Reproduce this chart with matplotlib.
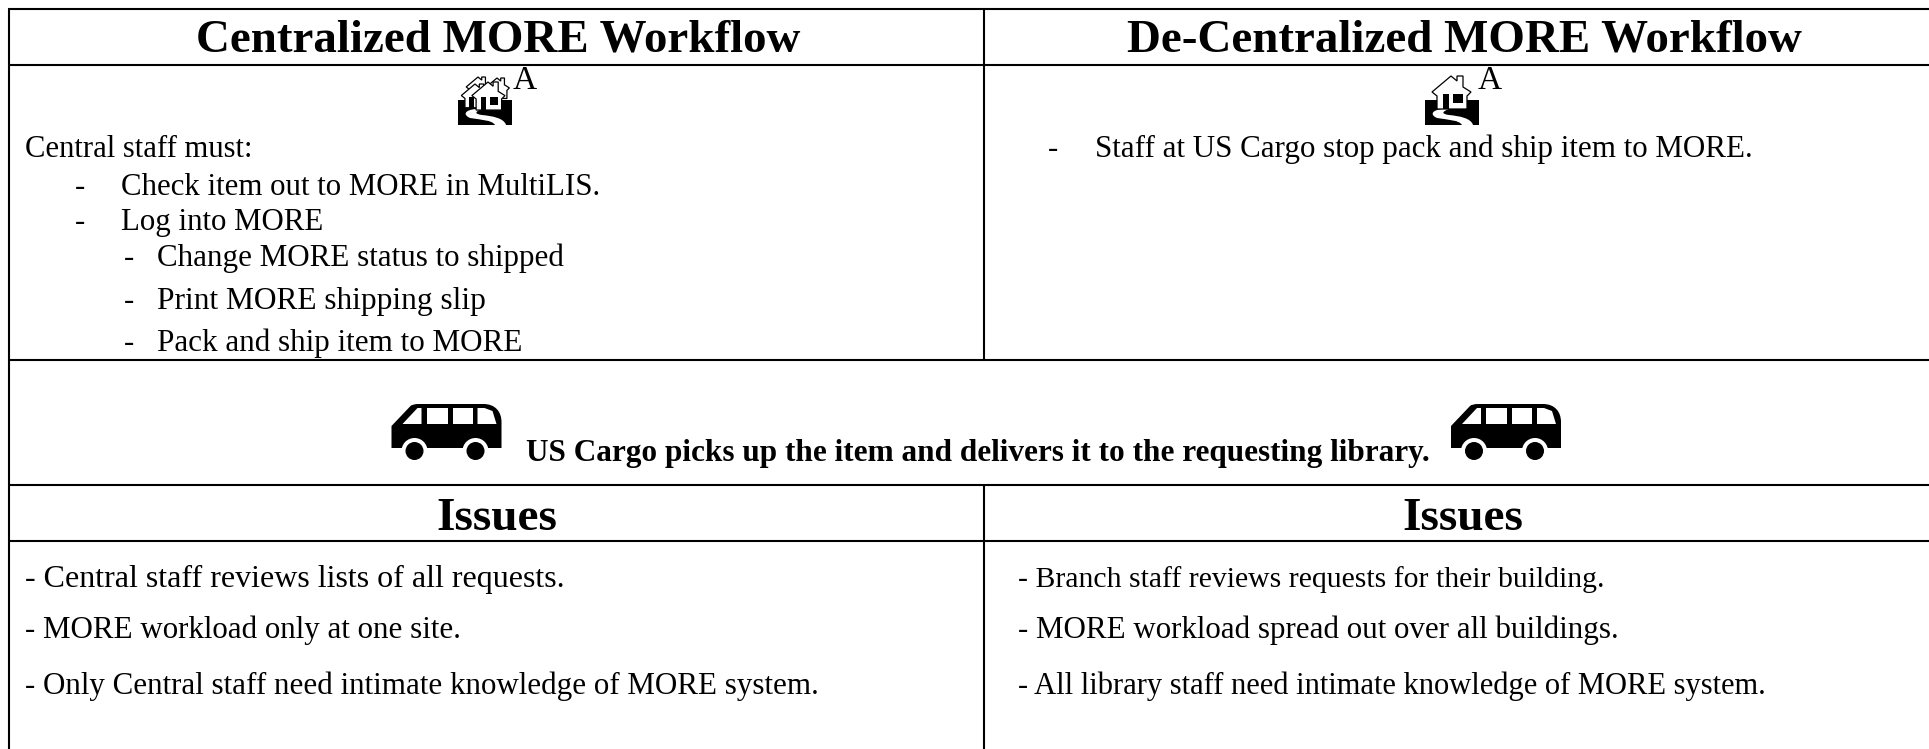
import matplotlib
matplotlib.use("Agg")
import matplotlib.pyplot as plt
from matplotlib.patches import Polygon, Circle, Rectangle, PathPatch
from matplotlib.path import Path

W, H = 1929, 749
SERIF = "Liberation Serif"

titles = ["Centralized MORE Workflow", "De-Centralized MORE Workflow"]
issues_title = "Issues"
bus_text = "US Cargo picks up the item and delivers it to the requesting library."
central_intro = "Central staff must:"
central_steps = ["Check item out to MORE in MultiLIS.", "Log into MORE"]
central_sub = ["Change MORE status to shipped", "Print MORE shipping slip", "Pack and ship item to MORE"]
decentral_steps = ["Staff at US Cargo stop pack and ship item to MORE."]
central_issues = ["- Central staff reviews lists of all requests.",
                  "- MORE workload only at one site.",
                  "- Only Central staff need intimate knowledge of MORE system."]
decentral_issues = ["- Branch staff reviews requests for their building.",
                    "- MORE workload spread out over all buildings.",
                    "- All library staff need intimate knowledge of MORE system."]

fig = plt.figure(figsize=(W / 100, H / 100), dpi=100)
ax = fig.add_axes([0, 0, 1, 1])
ax.set_xlim(0, W)
ax.set_ylim(H, 0)
ax.axis("off")


def label(x, y, s, size=22.3, weight="normal", ha="left"):
    ax.text(x, y, s, fontsize=size, family=SERIF, weight=weight, ha=ha, va="baseline", color="black")


def house(x, y, s=1.0, z=3, windows=True):
    # x, y is the tip of the roof
    pts = [(0, 0), (6, 5), (6, 0), (12, 0), (12, 11), (20, 16), (16, 20), (16, 33), (-14, 33), (-14, 20), (-19, 16)]
    ax.add_patch(Polygon([(x + a * s, y + b * s) for a, b in pts], fc="white", ec="black", lw=0.9, zorder=z))
    if windows:
        ax.add_patch(Rectangle((x - 8 * s, y + 18 * s), 6 * s, 15 * s, fc="black", ec="none", zorder=z))
        ax.add_patch(Rectangle((x + 2 * s, y + 18 * s), 10 * s, 9 * s, fc="black", ec="none", zorder=z))


def ground(x, y):
    # black block with the white path through it
    ax.add_patch(Rectangle((x, y), 54, 25, fc="black", ec="none", zorder=2))
    verts = [(18, 9), (6, 10), (5, 15), (12, 18), (24, 20), (34, 20), (37, 25),
             (48, 25), (46, 18), (34, 16), (24, 15), (17, 14), (16, 12), (24, 9), (18, 9)]
    codes = [Path.MOVETO, Path.CURVE4, Path.CURVE4, Path.CURVE4, Path.CURVE4, Path.CURVE4, Path.CURVE4,
             Path.LINETO, Path.CURVE4, Path.CURVE4, Path.CURVE4, Path.CURVE4, Path.CURVE4, Path.CURVE4, Path.CLOSEPOLY]
    ax.add_patch(PathPatch(Path([(x + a, y + b) for a, b in verts], codes), fc="white", ec="none", zorder=2.5))


def bus(x, y):
    verts = [(0, 22), (19, 2), (21, 0), (27, 0), (92, 0), (104, 0), (110, 8), (110, 18), (110, 44), (0, 44), (0, 22)]
    codes = [Path.MOVETO, Path.LINETO, Path.CURVE3, Path.CURVE3, Path.LINETO, Path.CURVE4, Path.CURVE4, Path.CURVE4,
             Path.LINETO, Path.LINETO, Path.CLOSEPOLY]
    ax.add_patch(PathPatch(Path([(x + a, y + b) for a, b in verts], codes), fc="black", ec="none"))
    wins = [[(11, 20), (26, 4), (30, 4), (30, 20)],
            [(35, 4), (56, 4), (56, 20), (35, 20)],
            [(61, 4), (81, 4), (81, 20), (61, 20)],
            [(86, 4), (93, 4), (101, 7), (105, 20), (86, 20)]]
    for win in wins:
        ax.add_patch(Polygon([(x + a, y + b) for a, b in win], fc="white", ec="none"))
    for cx in (23, 84):
        ax.add_patch(Circle((x + cx, y + 47), 13, fc="white", ec="none"))
        ax.add_patch(Circle((x + cx, y + 47), 9, fc="black", ec="none"))


# table rules
LW = 1.5
for y in (9, 65, 360, 485, 541):
    ax.plot([8, W], [y, y], color="black", lw=LW, solid_capstyle="butt")
ax.plot([9, 9], [9, H], color="black", lw=LW, solid_capstyle="butt")
ax.plot([984, 984], [9, 360], color="black", lw=LW, solid_capstyle="butt")
ax.plot([984, 984], [485, H], color="black", lw=LW, solid_capstyle="butt")

# headers
label(498, 52, titles[0], size=33.8, weight="bold", ha="center")
label(1464, 52, titles[1], size=33.8, weight="bold", ha="center")
label(497, 530, issues_title, size=34, weight="bold", ha="center")
label(1463, 530, issues_title, size=34, weight="bold", ha="center")

# icons in the header row
ground(458, 100)
house(497, 78, 0.62, z=3, windows=False)
house(478, 77, 0.62, z=3, windows=False)
house(475, 84, 0.72, z=4)
house(488, 82, 0.85, z=5)
label(513, 89, "A", size=24)
ground(1425, 100)
house(1451, 76, 1.0, z=3)
label(1478, 89, "A", size=24)

# centralized steps
label(25, 157, central_intro, size=22.1)
for y, s in zip((195, 230), central_steps):
    label(75, y, "-")
    label(121, y, s, size=22.2)
for y, s, fs in zip((266, 309, 351), central_sub, (22.3, 22.6, 22.4)):
    label(124, y, "-")
    label(157, y, s, size=fs)

# decentralized step
label(1048, 157, "-")
label(1095, 157, decentral_steps[0])

# bus row
bus(391.5, 404)
bus(1451, 404)
label(526, 461, bus_text, size=22.5, weight="bold")

# issues, each line measured on its own
for y, a, fa, b, fb in zip((587, 638, 694), central_issues, (23.0, 22.3, 22.3),
                           decentral_issues, (21.4, 22.3, 22.0)):
    label(25, y, a, size=fa)
    label(1018, y, b, size=fb)

fig.savefig("out.png", dpi=100)
